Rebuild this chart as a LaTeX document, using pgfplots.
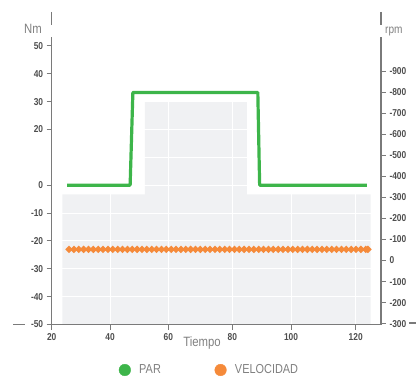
\documentclass[border=0pt]{standalone}
\usepackage{fontspec}
\setmainfont{Liberation Sans}[FakeStretch=0.84]
\usepackage{pgfplots}
\pgfplotsset{compat=1.18}
\definecolor{gpar}{HTML}{3DB54A}
\definecolor{gvel}{HTML}{F58A3A}
\definecolor{gbg}{HTML}{F0F1F3}
\definecolor{gaxis}{HTML}{7A7A7A}
\definecolor{glab}{HTML}{4E4E4E}
\definecolor{gtxt}{HTML}{808080}
\begin{document}
\begin{tikzpicture}
\pgfplotsset{
 common/.style={
  at={(51.7pt,51.5pt)}, anchor=south west,
  scale only axis, width=329.3pt, height=287.5pt,
  xmin=20, xmax=128.32,
  axis line style={gaxis, line width=1.2pt},
  tick style={gaxis, line width=1pt},
  major tick length=5pt,
  tick align=outside,
  tick label style={font=\bfseries\fontsize{10}{10}\selectfont, text=glab},
  /pgf/number format/assume math mode=true,
 }
}
\begin{axis}[common, set layers,
  axis x line*=bottom, axis y line*=left,
  ymin=-50, ymax=53.2,
  xtick={20,39.18,58.36,79.41,98.72,120},
  xticklabels={20,40,60,80,100,120},
  ytick={-50,-40,-30,-20,-10,0,20,30,40,50},
  extra y ticks={10}, extra y tick labels={},
  extra tick style={major tick length=0pt, grid=major},
  grid=major, major grid style={white, line width=1pt},
  xlabel={Tiempo},
  xlabel style={at={(axis description cs:0.4564,-0.0643)}, anchor=center,
    font=\fontsize{13.5}{14}\selectfont, text=gtxt},
]
\addplot[fill=gbg, draw=none, on layer=axis background] coordinates {
 (23.49,-50) (23.49,-3.25) (50.69,-3.25) (50.69,30) (84.24,30)
 (84.24,-3.25) (124.9,-3.25) (124.9,-50) (23.49,-50)};
\addplot[gpar, line width=3.2pt, line join=round] coordinates {
 (25.1,0) (45.8,0) (46.7,33.3) (87.8,33.3) (88.4,0) (123.7,0)};
\end{axis}
\begin{axis}[common,
  axis x line=none, axis y line*=right,
  ymin=-303.8, ymax=1061.8,
  ytick={-300,-200,-100,0,100,200,300,400,500,600,700,800,900},
  yticklabels={-300,-200,-100,0,-100,-200,-300,-400,-500,-600,-700,-800,-900},
  legend style={draw=none, fill=none, inner sep=0pt,
    at={(axis description cs:0.2033,-0.1583)}, anchor=west,
    font=\fontsize{13}{14}\selectfont, text=gtxt,
    /tikz/every odd column/.append style={column sep=6.4pt},
    /tikz/every even column/.append style={column sep=51.7pt}},
  legend columns=2,
]
\addlegendimage{legend image code/.code={\fill[gpar] (5.8pt,0pt) circle (5.8pt);}}
\addlegendentry{PAR}
\addlegendimage{legend image code/.code={\fill[gvel] (5.8pt,0pt) circle (5.8pt);}}
\addlegendentry{VELOCIDAD}
\addplot[gvel, line width=3pt, mark=*, mark size=1.65pt, mark options={fill=gvel!85!white, draw=none}, forget plot] coordinates {
 (25.7,53) (27.3,53) (28.9,53) (30.5,53) (32.1,53) (33.7,53) (35.3,53) (36.9,53)
 (38.5,53) (40.1,53) (41.7,53) (43.3,53) (44.9,53) (46.5,53) (48.1,53) (49.7,53)
 (51.3,53) (52.9,53) (54.5,53) (56.1,53) (57.7,53) (59.3,53) (60.9,53) (62.5,53)
 (64.1,53) (65.7,53) (67.3,53) (68.9,53) (70.5,53) (72.1,53) (73.7,53) (75.3,53)
 (76.9,53) (78.5,53) (80.1,53) (81.7,53) (83.3,53) (84.9,53) (86.5,53) (88.1,53)
 (89.7,53) (91.3,53) (92.9,53) (94.5,53) (96.1,53) (97.7,53) (99.3,53) (100.9,53)
 (102.5,53) (104.1,53) (105.7,53) (107.3,53) (108.9,53) (110.5,53) (112.1,53) (113.7,53)
 (115.3,53) (116.9,53) (118.5,53) (120.1,53) (121.7,53) (123.3,53) (124.0,53)};
\end{axis}
\draw[gaxis, line width=1.2pt] (51.7pt,364pt) -- (51.7pt,351pt);
\draw[gaxis, line width=1.2pt] (381pt,364pt) -- (381pt,351pt);
\draw[gaxis, line width=1.2pt] (13pt,51.3pt) -- (25pt,51.3pt);
\draw[gaxis, line width=1.2pt] (409pt,53pt) -- (416pt,53pt);
\node[font=\fontsize{13.5}{14}\selectfont, text=gtxt, anchor=center] at (33pt,347pt) {Nm};
\node[font=\fontsize{12}{13}\selectfont, text=gtxt, anchor=west, inner sep=0pt] at (385pt,344pt) {rpm};
\pgfresetboundingbox
\path (0pt,0pt) rectangle (416pt,376pt);
\end{tikzpicture}
\end{document}
